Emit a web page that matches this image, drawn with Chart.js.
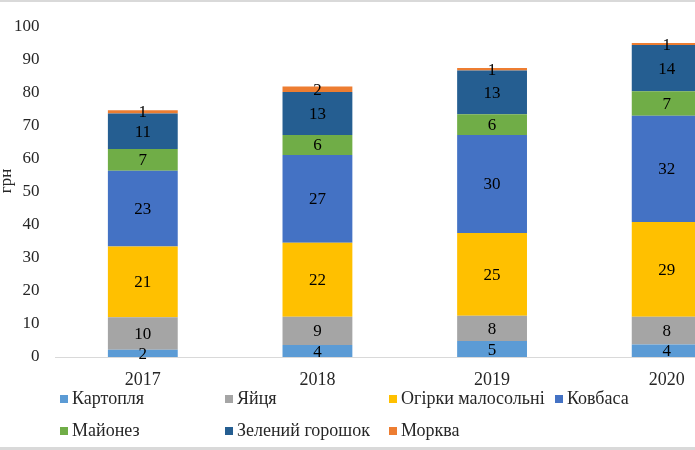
<!DOCTYPE html>
<html>
<head>
<meta charset="utf-8">
<script src="https://cdn.jsdelivr.net/npm/chart.js@4/dist/chart.umd.min.js"></script>
<style>
  html, body { margin: 0; padding: 0; background: #fff; overflow: hidden; width: 695px; height: 450px; }
  #wrap { position: relative; width: 695px; height: 450px; overflow: hidden; }
  #c { position: absolute; left: 0; top: 0; }
  .topline { position: absolute; left: 0; top: 0; width: 695px; height: 2px; background: #d9d9d9; }
  .botline { position: absolute; left: 0; top: 447px; width: 695px; height: 3px; background: #d9d9d9; }
  .lg { position: absolute; font-family: "Liberation Serif", "Times New Roman", serif; font-size: 18px; color: #262626; white-space: nowrap; line-height: 20px; }
  .lg i { display: inline-block; width: 8px; height: 8px; margin-right: 4px; vertical-align: 1px; }
</style>
</head>
<body>
<div id="wrap">
  <canvas id="c" width="760" height="450"></canvas>
  <div class="topline"></div>
  <div class="botline"></div>
  <div id="legend"></div>
</div>
<script>
const categories = ["2017", "2018", "2019", "2020"];
const seriesNames = ["Картопля", "Яйця", "Огірки малосольні", "Ковбаса", "Майонез", "Зелений горошок", "Морква"];
const kartoplia = [2.2, 3.6, 4.8, 3.8];
const yaitsia   = [9.8, 8.6, 7.7, 8.4];
const ohirky    = [21.4, 22.3, 25.0, 28.6];
const kovbasa   = [22.9, 26.6, 29.6, 32.1];
const maionez   = [6.6, 6.0, 6.3, 7.4];
const horoshok  = [10.7, 13.0, 13.2, 14.0];
const morkva    = [1.0, 1.7, 0.8, 0.6];
const yTicks = [0, 10, 20, 30, 40, 50, 60, 70, 80, 90, 100];
const yTitle = "грн";

const seriesValues = [kartoplia, yaitsia, ohirky, kovbasa, maionez, horoshok, morkva];
const colors = ["#5B9BD5", "#A5A5A5", "#FFC000", "#4472C4", "#70AD47", "#255E91", "#ED7D31"];
const serif = '"Liberation Serif", "Times New Roman", serif';

const labelPlugin = {
  id: 'segLabels',
  afterDatasetsDraw(chart) {
    const ctx = chart.ctx;
    ctx.save();
    ctx.font = '17px ' + serif;
    ctx.fillStyle = '#000';
    ctx.textAlign = 'center';
    ctx.textBaseline = 'middle';
    chart.data.datasets.forEach((ds, i) => {
      const meta = chart.getDatasetMeta(i);
      meta.data.forEach((el, j) => {
        const yc = (el.y + el.base) / 2;
        ctx.fillText(String(Math.round(ds.data[j])), el.x, yc + 1);
      });
    });
    ctx.restore();
  }
};

const titlePlugin = {
  id: 'yTitle',
  afterDraw(chart) {
    const ctx = chart.ctx;
    ctx.save();
    ctx.font = '17px ' + serif;
    ctx.fillStyle = '#262626';
    ctx.textAlign = 'center';
    ctx.textBaseline = 'middle';
    ctx.translate(7, 181);
    ctx.rotate(-Math.PI / 2);
    ctx.fillText(yTitle, 0, 0);
    ctx.restore();
  }
};

new Chart(document.getElementById('c'), {
  type: 'bar',
  data: {
    labels: categories,
    datasets: seriesNames.map((n, i) => ({
      label: n,
      data: seriesValues[i],
      backgroundColor: colors[i],
      borderWidth: 0,
      categoryPercentage: 1.0,
      barPercentage: 0.4
    }))
  },
  options: {
    responsive: false,
    animation: false,
    layout: { padding: { top: 24, right: 6, left: 0, bottom: 0 } },
    plugins: {
      legend: { display: false },
      tooltip: { enabled: false },
      title: { display: false }
    },
    scales: {
      x: {
        stacked: true,
        grid: { display: true, drawOnChartArea: false, drawTicks: false },
        border: { display: true, color: '#d9d9d9', width: 1 },
        ticks: { font: { family: serif, size: 18 }, color: '#262626', padding: 12, maxRotation: 0 },
        afterFit(scale) { scale.height = 93; }
      },
      y: {
        stacked: true,
        min: 0,
        max: 100,
        grid: { display: false, drawTicks: false },
        border: { display: false },
        afterBuildTicks(scale) { scale.ticks = yTicks.map(v => ({ value: v })); },
        ticks: { font: { family: serif, size: 17 }, color: '#262626', padding: 16 },
        afterFit(scale) { scale.width = 55.5; }
      }
    }
  },
  plugins: [labelPlugin, titlePlugin]
});

// legend
const legendPos = [[60, 398], [225, 398], [389, 398], [555, 398], [60, 430], [225, 430], [389, 430]];
const lg = document.getElementById('legend');
seriesNames.forEach((n, i) => {
  const d = document.createElement('div');
  d.className = 'lg';
  d.style.left = legendPos[i][0] + 'px';
  d.style.top = (legendPos[i][1] - 10) + 'px';
  d.innerHTML = '<i style="background:' + colors[i] + '"></i>' + n;
  lg.appendChild(d);
});
</script>
</body>
</html>
